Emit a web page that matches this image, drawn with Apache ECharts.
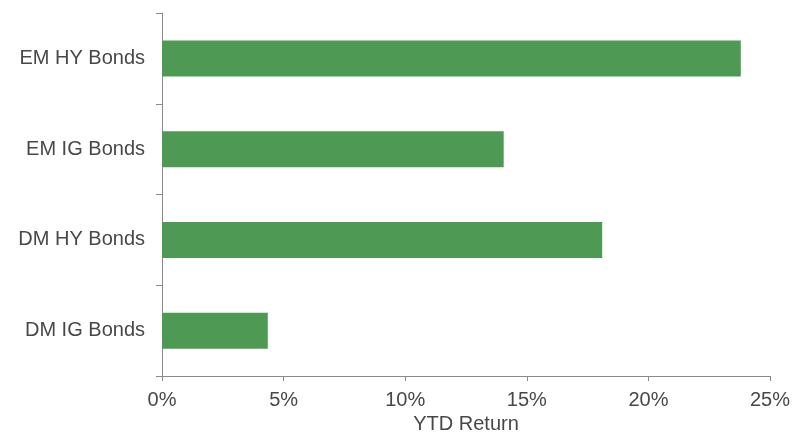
<!DOCTYPE html>
<html>
<head>
<meta charset="utf-8">
<script src="https://cdn.jsdelivr.net/npm/echarts@6/dist/echarts.min.js"></script>
<style>
  html, body { margin: 0; padding: 0; background: #fff; }
  #chart { width: 795px; height: 432px; }
</style>
</head>
<body>
<div id="chart"></div>
<script>
// categories top to bottom
const categories = ['EM HY Bonds', 'EM IG Bonds', 'DM HY Bonds', 'DM IG Bonds'];
// YTD return, percent
const ytdReturn = [23.8, 14.05, 18.1, 4.35];
const xTicks = [0, 5, 10, 15, 20, 25];

const axisColor = '#8a8a8a';
const textColor = '#484848';
const font = 'Liberation Sans, Arial, sans-serif';

const myChart = echarts.init(document.getElementById('chart'));

const option = {
  animation: false,
  grid: {
    left: 162,
    right: 25,
    top: 13,
    bottom: 56,
    outerBoundsMode: 'none'
  },
  xAxis: {
    type: 'value',
    min: xTicks[0],
    max: xTicks[xTicks.length - 1],
    interval: 5,
    name: 'YTD Return',
    nameLocation: 'middle',
    nameGap: 37,
    nameTextStyle: { fontSize: 20, color: textColor, fontFamily: font },
    axisLine: { show: true, lineStyle: { color: axisColor, width: 1 } },
    axisTick: { show: true, length: 5, lineStyle: { color: axisColor } },
    axisLabel: {
      formatter: '{value}%',
      fontSize: 20,
      color: textColor,
      fontFamily: font,
      margin: 14
    },
    splitLine: { show: false }
  },
  yAxis: {
    type: 'category',
    inverse: true,
    data: categories,
    axisLine: { show: true, lineStyle: { color: axisColor, width: 1 } },
    axisTick: { show: true, length: 6, lineStyle: { color: axisColor } },
    axisLabel: {
      fontSize: 20,
      color: textColor,
      fontFamily: font,
      margin: 17
    }
  },
  series: [
    {
      type: 'bar',
      data: ytdReturn,
      barWidth: 36,
      itemStyle: { color: '#4e9a54' }
    }
  ]
};

myChart.setOption(option);
</script>
</body>
</html>
